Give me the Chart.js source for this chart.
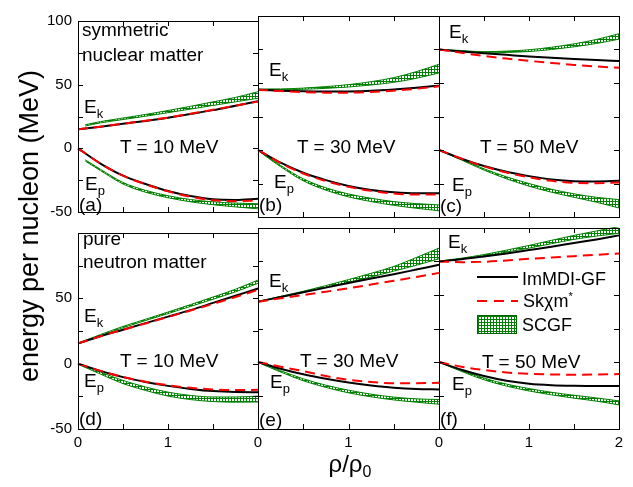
<!DOCTYPE html>
<html>
<head>
<meta charset="utf-8">
<script src="https://cdn.jsdelivr.net/npm/chart.js@4.4.1/dist/chart.umd.min.js"></script>
<style>
  body { margin: 0; background: #fff; }
  #wrap { position: relative; width: 633px; height: 487px; overflow: hidden;
          font-family: "Liberation Sans", Arial, sans-serif; color: #000; }
  #wrap canvas { position: absolute; }
  .t { position: absolute; font-size: 19px; line-height: 19px; white-space: nowrap; }
  .t sub { font-size: 13px; vertical-align: -5px; line-height: 0; }
  .leg { position: absolute; font-size: 18px; line-height: 18px; white-space: nowrap; }
  .leg sup { font-size: 11px; vertical-align: 7px; line-height: 0; }
</style>
</head>
<body>
<div id="wrap">
  <!-- panel notes -->
  <div class="t" style="left:82px;top:20px">symmetric</div>
  <div class="t" style="left:82px;top:45px">nuclear matter</div>
  <div class="t" style="left:84px;top:97px">E<sub>k</sub></div>
  <div class="t" style="left:120px;top:137px">T = 10 MeV</div>
  <div class="t" style="left:85px;top:174px">E<sub>p</sub></div>
  <div class="t" style="left:79px;top:195px">(a)</div>

  <div class="t" style="left:269px;top:60px">E<sub>k</sub></div>
  <div class="t" style="left:297px;top:137px">T = 30 MeV</div>
  <div class="t" style="left:274px;top:172px">E<sub>p</sub></div>
  <div class="t" style="left:259px;top:195px">(b)</div>

  <div class="t" style="left:449px;top:22px">E<sub>k</sub></div>
  <div class="t" style="left:480px;top:137px">T = 50 MeV</div>
  <div class="t" style="left:452px;top:175px">E<sub>p</sub></div>
  <div class="t" style="left:440px;top:196px">(c)</div>

  <div class="t" style="left:83px;top:229px">pure</div>
  <div class="t" style="left:83px;top:252px">neutron matter</div>
  <div class="t" style="left:84px;top:306px">E<sub>k</sub></div>
  <div class="t" style="left:120px;top:351px">T = 10 MeV</div>
  <div class="t" style="left:84px;top:371px">E<sub>p</sub></div>
  <div class="t" style="left:79px;top:409px">(d)</div>

  <div class="t" style="left:269px;top:271px">E<sub>k</sub></div>
  <div class="t" style="left:300px;top:351px">T = 30 MeV</div>
  <div class="t" style="left:270px;top:372px">E<sub>p</sub></div>
  <div class="t" style="left:259px;top:410px">(e)</div>

  <div class="t" style="left:448px;top:232px">E<sub>k</sub></div>
  <div class="t" style="left:482px;top:352px">T = 50 MeV</div>
  <div class="t" style="left:452px;top:374px">E<sub>p</sub></div>
  <div class="t" style="left:440px;top:409px">(f)</div>

  <!-- legend -->
  <div style="position:absolute;left:477px;top:276px;width:41px;height:2px;background:#000"></div>
  <div class="leg" style="left:522px;top:270px">ImMDI-GF</div>
  <div style="position:absolute;left:477px;top:300px;width:41px;height:2px;background:repeating-linear-gradient(90deg,#ff0000 0 10px,transparent 10px 17px)"></div>
  <div class="leg" style="left:523px;top:292px">Skχm<sup>*</sup></div>
  <div style="position:absolute;left:477px;top:315px;width:38px;height:17px;border:1px solid #006400;background-color:#fff;background-image:linear-gradient(#008000 1px,transparent 1px),linear-gradient(90deg,#008000 1px,transparent 1px);background-size:3px 3px"></div>
  <div class="leg" style="left:522px;top:316px">SCGF</div>

  <!-- axis titles -->
  <div style="position:absolute;left:-171px;top:209px;width:400px;height:34px;line-height:34px;text-align:center;font-size:27px;transform:rotate(-90deg)">energy per nucleon (MeV)</div>
  <div style="position:absolute;left:250px;top:452px;width:200px;text-align:center;font-size:24px;line-height:24px">ρ/ρ<sub style="font-size:16px;vertical-align:-5px;line-height:0">0</sub></div>
</div>

<script>
// density grid (rho / rho0)
const rho = [0, 0.25, 0.5, 0.75, 1, 1.25, 1.5, 1.75, 2];
const rhoSCGFa = [0.08, 0.25, 0.5, 0.75, 1, 1.25, 1.5, 1.75, 2]; // SCGF in (a) starts a bit off zero
const xTickLabels = [0, 1, 2];
const yTickLabels = [-50, 0, 50, 100];

// (a) symmetric nuclear matter, T = 10 MeV
const ekImMDI_a = [15, 17, 19.3, 21.5, 24, 27, 30, 33.5, 37];
const ekSk_a = [15, 17, 19.3, 21.7, 24.2, 27.2, 30.3, 33.5, 36.8];
const ekSCGFlo_a = [17.5, 20, 22.6, 25.2, 28, 30.8, 33.7, 36.5, 39.3];
const ekSCGFhi_a = [18.5, 21, 23.8, 26.6, 29.7, 33, 36.5, 40, 44.5];
const epImMDI_a = [0, -12, -21.5, -28, -33.5, -37.5, -40, -40.5, -39.5];
const epSk_a = [0, -12, -21.5, -28.2, -33.8, -38, -40.7, -41.5, -41];
const epSCGFlo_a = [-10, -17.5, -28, -34.5, -38.8, -42, -44.3, -46, -47.5];
const epSCGFhi_a = [-9, -16.5, -26.8, -33, -37.2, -40.2, -42, -43, -43.5];

// (b) symmetric nuclear matter, T = 30 MeV
const ekImMDI_b = [45, 44.3, 43.8, 43.6, 43.7, 44.2, 45.2, 46.5, 48];
const ekSk_b = [45, 44, 43.2, 42.8, 42.8, 43.3, 44.3, 45.7, 47.5];
const ekSCGFlo_b = [45, 45, 45.3, 46, 47, 48.5, 50.5, 53.5, 57.5];
const ekSCGFhi_b = [45.5, 45.6, 46.2, 47.3, 48.8, 51, 54, 58.5, 64];
const epImMDI_b = [0, -9.5, -17, -22.5, -26.8, -29.8, -31.5, -32.3, -32.3];
const epSk_b = [0, -9.8, -17.5, -23.2, -27.5, -30.5, -32.5, -33.3, -33.3];
const epSCGFlo_b = [-0.5, -12.5, -23, -30, -35, -38.5, -41.3, -43.5, -45.3];
const epSCGFhi_b = [0, -11.5, -21.5, -28.2, -32.8, -36, -38.5, -40, -41];

// (c) symmetric nuclear matter, T = 50 MeV
const ekImMDI_c = [75, 73.5, 72.2, 71, 69.8, 68.8, 67.9, 67.1, 66.5];
const ekSk_c = [75, 72.5, 70.2, 68.2, 66.5, 65, 63.5, 62.3, 61.3];
const ekSCGFlo_c = [74.8, 73.5, 72.5, 72.8, 73.5, 75, 77, 79.5, 82.7];
const ekSCGFhi_c = [75.2, 74.2, 73.4, 73.8, 74.8, 76.7, 79.2, 82.5, 86.8];
const epImMDI_c = [0, -6.5, -12, -16.3, -19.5, -22, -23.3, -23.5, -23];
const epSk_c = [0, -6.5, -12.2, -16.8, -20.3, -23, -24.5, -24.8, -24.3];
const epSCGFlo_c = [0, -7.5, -15, -21.5, -27, -31.5, -35.3, -39, -43.3];
const epSCGFhi_c = [0, -7, -14, -20, -25, -29.3, -32.7, -35.3, -37];

// (d) pure neutron matter, T = 10 MeV
const ekImMDI_d = [15.5, 21, 26, 31, 36, 41, 46.5, 52, 57.5];
const ekSk_d = [15.5, 21, 26, 30.8, 35.7, 40.7, 45.8, 51, 56.5];
const ekSCGFlo_d = [15.3, 21.5, 27.5, 33, 38.3, 43.8, 49.3, 55, 61.5];
const ekSCGFhi_d = [15.7, 22.3, 28.5, 34, 39.5, 45.2, 51, 57, 64];
const epImMDI_d = [0, -5.5, -10.3, -14, -17, -19.3, -21, -21.7, -21.8];
const epSk_d = [0, -5.5, -10.2, -13.8, -16.5, -18.5, -19.7, -20.2, -20];
const epSCGFlo_d = [-0.5, -8, -15.3, -20.5, -24.8, -27.5, -29, -29.5, -29.3];
const epSCGFhi_d = [0, -6.5, -12.8, -17.8, -21.8, -24.3, -25.5, -25.5, -24.8];

// (e) pure neutron matter, T = 30 MeV
const ekImMDI_e = [45, 48.5, 52, 55.5, 59, 62.3, 65.5, 69, 72.5];
const ekSk_e = [45, 47.5, 50, 52.5, 55, 57.8, 60.6, 63.5, 66.5];
const ekSCGFlo_e = [45, 48.5, 52, 55.7, 59.5, 63.5, 67.8, 72.2, 77];
const ekSCGFhi_e = [45.3, 49, 52.8, 57, 61.5, 66.2, 71.3, 78, 85];
const epImMDI_e = [0, -5, -9.2, -12.5, -15.3, -17.5, -19.2, -20.2, -20.5];
const epSk_e = [0, -3.5, -6.8, -10.5, -13.3, -15, -15.8, -15.8, -15.5];
const epSCGFlo_e = [-0.3, -7.5, -14, -19, -23, -26, -28.3, -30, -31.5];
const epSCGFhi_e = [0, -6.5, -12.5, -17.3, -21, -24, -26.2, -27.5, -28];

// (f) pure neutron matter, T = 50 MeV
const ekImMDI_f = [75, 76.7, 78.8, 81, 83.5, 86, 88.8, 91.5, 94.5];
const ekSk_f = [75, 74.5, 74.8, 75.8, 77, 78, 79, 80, 81];
const ekSCGFlo_f = [75, 76.8, 79.2, 82, 85, 88.3, 91.5, 94, 96];
const ekSCGFhi_f = [75.3, 77.5, 80.2, 83.5, 87, 90.8, 94.5, 97.8, 101];
const epImMDI_f = [0, -5.8, -10.5, -14, -16.2, -17.3, -17.8, -18, -18];
const epSk_f = [0, -3.5, -6, -7.8, -8.8, -9.3, -9.5, -9.3, -9];
const epSCGFlo_f = [-0.3, -7, -13.3, -18, -21.6, -24.5, -27, -29.2, -32];
const epSCGFhi_f = [0, -6.2, -12, -16.5, -19.8, -22.6, -24.8, -26.8, -29];

const panels = [
  {row: 0, col: 0, xs: rhoSCGFa, ek: [ekImMDI_a, ekSk_a, ekSCGFlo_a, ekSCGFhi_a], ep: [epImMDI_a, epSk_a, epSCGFlo_a, epSCGFhi_a]},
  {row: 0, col: 1, xs: rho, ek: [ekImMDI_b, ekSk_b, ekSCGFlo_b, ekSCGFhi_b], ep: [epImMDI_b, epSk_b, epSCGFlo_b, epSCGFhi_b]},
  {row: 0, col: 2, xs: rho, ek: [ekImMDI_c, ekSk_c, ekSCGFlo_c, ekSCGFhi_c], ep: [epImMDI_c, epSk_c, epSCGFlo_c, epSCGFhi_c]},
  {row: 1, col: 0, xs: rho, ek: [ekImMDI_d, ekSk_d, ekSCGFlo_d, ekSCGFhi_d], ep: [epImMDI_d, epSk_d, epSCGFlo_d, epSCGFhi_d]},
  {row: 1, col: 1, xs: rho, ek: [ekImMDI_e, ekSk_e, ekSCGFlo_e, ekSCGFhi_e], ep: [epImMDI_e, epSk_e, epSCGFlo_e, epSCGFhi_e]},
  {row: 1, col: 2, xs: rho, ek: [ekImMDI_f, ekSk_f, ekSCGFlo_f, ekSCGFhi_f], ep: [epImMDI_f, epSk_f, epSCGFlo_f, epSCGFhi_f]}
];

// plot frame geometry
const colLeft = [78, 258, 439];
const colWidth = [180, 181, 180];
const rowTop = [16, 228];
const rowHeight = 201;

const GREEN = '#008000';

function hatchPattern() {
  const c = document.createElement('canvas');
  c.width = 3; c.height = 3;
  const g = c.getContext('2d');
  g.fillStyle = '#fff'; g.fillRect(0, 0, 3, 3);
  g.fillStyle = GREEN; g.fillRect(0, 0, 3, 1); g.fillRect(0, 0, 1, 3);
  return g.createPattern(c, 'repeat');
}

// box + inward ticks on all four sides
const frameTicks = {
  id: 'frameTicks',
  afterDatasetsDraw(chart) {
    const {ctx, chartArea: a, scales} = chart;
    const L = 5;
    ctx.save();
    ctx.strokeStyle = '#000';
    ctx.lineWidth = 1;
    ctx.beginPath();
    scales.x.ticks.forEach(t => {
      const px = Math.round(scales.x.getPixelForValue(t.value)) + 0.5;
      ctx.moveTo(px, a.bottom); ctx.lineTo(px, a.bottom - L);
      ctx.moveTo(px, a.top); ctx.lineTo(px, a.top + L);
    });
    scales.y.ticks.forEach(t => {
      const py = Math.round(scales.y.getPixelForValue(t.value)) + 0.5;
      ctx.moveTo(a.left, py); ctx.lineTo(a.left + L, py);
      ctx.moveTo(a.right, py); ctx.lineTo(a.right - L, py);
    });
    ctx.stroke();
    ctx.strokeRect(a.left + 0.5, a.top + 0.5, a.right - a.left, a.bottom - a.top);
    ctx.restore();
  }
};

const pts = (xs, ys) => xs.map((x, i) => ({x: x, y: ys[i]}));

function line(data, color, dash, width) {
  return {data: data, borderColor: color, borderWidth: width, borderDash: dash,
          pointRadius: 0, fill: false, cubicInterpolationMode: 'monotone', clip: 1};
}

const wrap = document.getElementById('wrap');

panels.forEach(p => {
  const ml = p.col === 0 ? 60 : 10;
  const mb = p.row === 1 ? 30 : 10;
  const cv = document.createElement('canvas');
  const w = colWidth[p.col] + ml + 10;
  const h = rowHeight + 10 + mb;
  cv.width = w; cv.height = h;
  cv.style.left = (colLeft[p.col] - ml) + 'px';
  cv.style.top = (rowTop[p.row] - 10) + 'px';
  cv.style.width = w + 'px'; cv.style.height = h + 'px';
  wrap.insertBefore(cv, wrap.firstChild);

  const hatch = hatchPattern();
  const band = (lo, hi) => [
    line(pts(p.xs, lo), GREEN, [], 1),
    Object.assign(line(pts(p.xs, hi), GREEN, [], 1), {fill: '-1', backgroundColor: hatch})
  ];

  const datasets = [
    line(pts(rho, p.ek[1]), '#ff0000', [10, 6], 2),
    line(pts(rho, p.ep[1]), '#ff0000', [10, 6], 2),
    line(pts(rho, p.ek[0]), '#000', [], 2),
    line(pts(rho, p.ep[0]), '#000', [], 2),
    ...band(p.ek[2], p.ek[3]),
    ...band(p.ep[2], p.ep[3])
  ];

  const tickFont = {family: '"Liberation Sans", Arial, sans-serif', size: 15};

  new Chart(cv, {
    type: 'line',
    data: {datasets: datasets},
    options: {
      responsive: false,
      animation: false,
      events: [],
      layout: {padding: {left: 10, right: 10, top: 10, bottom: 10}},
      plugins: {legend: {display: false}, tooltip: {enabled: false}},
      scales: {
        x: {
          type: 'linear', min: 0, max: 2,
          grid: {display: false, drawTicks: false},
          border: {display: false},
          afterFit: s => { s.height = p.row === 1 ? 20 : 0; },
          ticks: {
            display: p.row === 1, stepSize: 0.5, autoSkip: false, maxRotation: 0,
            padding: 5, color: '#000', font: tickFont,
            callback: v => (xTickLabels.includes(v) && !(v === 2 && p.col < 2)) ? String(v) : ''
          }
        },
        y: {
          min: -50, max: 100,
          grid: {display: false, drawTicks: false},
          border: {display: false},
          afterFit: s => { s.width = p.col === 0 ? 50 : 0; },
          ticks: {
            display: p.col === 0, stepSize: 25, autoSkip: false,
            padding: 6, color: '#000', font: tickFont,
            callback: v => (yTickLabels.includes(v) && !(v === 100 && p.row === 1)) ? String(v) : ''
          }
        }
      }
    },
    plugins: [frameTicks]
  });
});
</script>
</body>
</html>
